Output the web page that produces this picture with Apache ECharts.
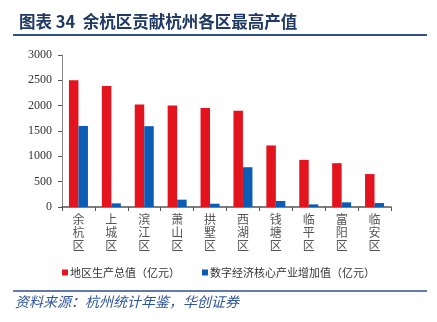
<!DOCTYPE html>
<html><head><meta charset="utf-8">
<script src="https://cdn.jsdelivr.net/npm/echarts@6/dist/echarts.min.js"></script>
<style>html,body{margin:0;padding:0;background:#fff}#c{width:437px;height:322px}</style>
</head><body><div id="c"></div>
<script>
const categories = ['余杭区','上城区','滨江区','萧山区','拱墅区','西湖区','钱塘区','临平区','富阳区','临安区'];
const gdp = [2500, 2390, 2025, 2005, 1955, 1900, 1215, 930, 865, 650];
const digital = [1600, 72, 1595, 145, 65, 785, 118, 52, 92, 78];
const seriesNames = ['地区生产总值（亿元）', '数字经济核心产业增加值（亿元）'];
const yTicks = [0, 500, 1000, 1500, 2000, 2500, 3000];

const chart = echarts.init(document.getElementById('c'));
chart.setOption({
  animation: false,
  grid: {left: 62, right: 46, top: 55, bottom: 115},
  title: {
    text: '图表 34  余杭区贡献杭州各区最高产值',
    left: 14, top: 8,
    textStyle: {color: '#1F3864', fontSize: 16.5, fontWeight: 'bold', fontFamily: 'Noto Sans CJK SC'}
  },
  graphic: [
    {type: 'line', shape: {x1: 13, y1: 35, x2: 427, y2: 35}, style: {stroke: '#2F4F8F', lineWidth: 2}},
    {type: 'line', shape: {x1: 13, y1: 291, x2: 427, y2: 291}, style: {stroke: '#2F4F8F', lineWidth: 1.5}},
    {type: 'text', left: 15, top: 295, style: {text: '资料来源：杭州统计年鉴，华创证券', fill: '#2F5597', font: 'italic 14px "Noto Sans CJK SC"'}}
  ],
  legend: {
    top: 262, left: 'center',
    itemWidth: 6, itemHeight: 6, itemGap: 22,
    icon: 'rect',
    textStyle: {fontSize: 11, color: '#333', fontFamily: 'Noto Sans CJK SC', padding: [0,0,0,-3]},
    data: seriesNames
  },
  xAxis: {
    type: 'category', data: categories,
    axisLine: {lineStyle: {color: '#555', width: 1.5}},
    axisTick: {show: true, length: 4, lineStyle: {color: '#555'}},
    axisLabel: {
      color: '#555', fontSize: 12, fontFamily: 'Noto Sans CJK SC', lineHeight: 13, margin: 6, interval: 0,
      formatter: v => v.split('').join('\n')
    }
  },
  yAxis: {
    type: 'value', min: 0, max: 3000, interval: 500,
    axisLine: {show: true, lineStyle: {color: '#888', width: 1}},
    axisTick: {show: true, length: 4, lineStyle: {color: '#555'}},
    splitLine: {show: false},
    axisLabel: {color: '#333', fontSize: 12, fontFamily: 'Liberation Serif', margin: 10,
      formatter: v => yTicks.includes(v) ? String(v) : ''}
  },
  series: [
    {name: seriesNames[0], type: 'bar', data: gdp, barWidth: 9.5, barGap: '0%', itemStyle: {color: '#E3141E'}},
    {name: seriesNames[1], type: 'bar', data: digital, barWidth: 9.5, itemStyle: {color: '#0B5CB5'}}
  ]
});
</script></body></html>
